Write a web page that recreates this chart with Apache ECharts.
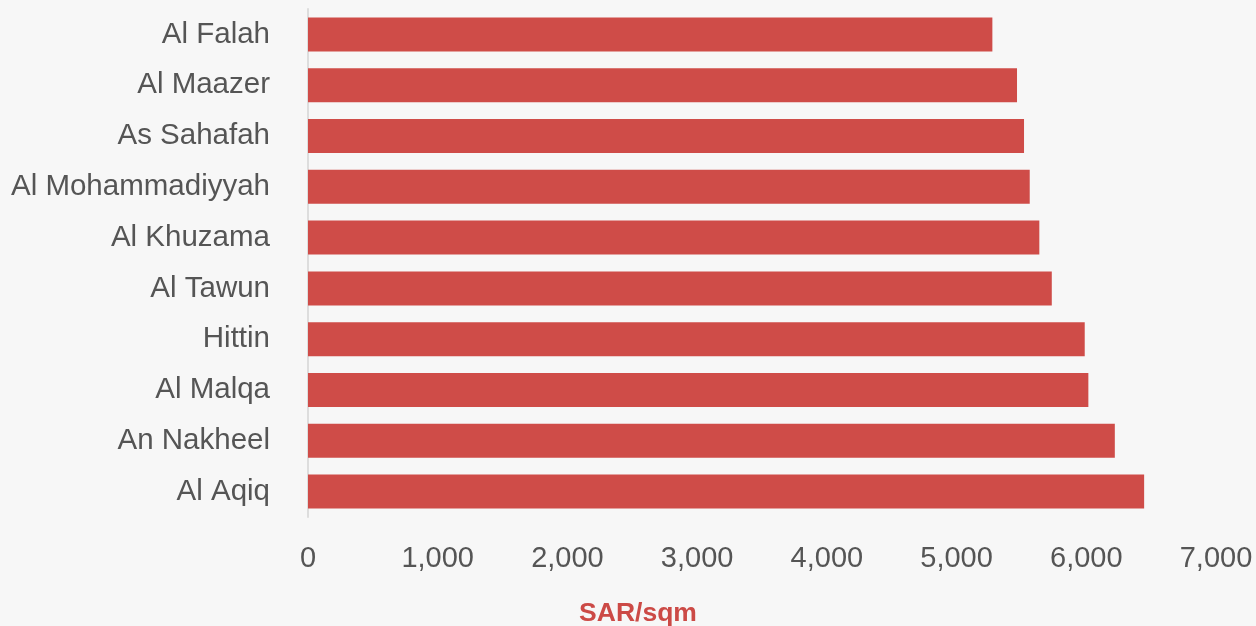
<!DOCTYPE html>
<html>
<head>
<meta charset="utf-8">
<style>
  html, body { margin: 0; padding: 0; background: #f7f7f7; }
  #chart { width: 1256px; height: 626px; }
</style>
<script src="https://cdn.jsdelivr.net/npm/echarts@6/dist/echarts.min.js"></script>
</head>
<body>
<div id="chart"></div>
<script>
// Districts, listed top to bottom
const districts = [
  'Al Falah', 'Al Maazer', 'As Sahafah', 'Al Mohammadiyyah', 'Al Khuzama',
  'Al Tawun', 'Hittin', 'Al Malqa', 'An Nakheel', 'Al Aqiq'
];
// Price per square metre (SAR/sqm)
const prices = [5276, 5466, 5520, 5564, 5638, 5734, 5988, 6016, 6220, 6446];
const axisTitle = 'SAR/sqm';

const chart = echarts.init(document.getElementById('chart'));
chart.setOption({
  backgroundColor: '#f7f7f7',
  animation: false,
  textStyle: { fontFamily: '"Liberation Sans", Arial, sans-serif' },
  grid: {
    left: 308, right: 40, top: 9, bottom: 109,
    containLabel: false,
    outerBoundsMode: 'none'
  },
  xAxis: {
    type: 'value',
    min: 0,
    max: 7000,
    interval: 1000,
    name: axisTitle,
    nameLocation: 'middle',
    nameGap: 83,
    // right padding moves the title toward the page centre
    nameTextStyle: {
      color: '#cc4a46', fontSize: 26.5, fontWeight: 'bold',
      padding: [0, 248, 0, 0]
    },
    axisLine: { show: false },
    axisTick: { show: false },
    splitLine: { show: false },
    axisLabel: {
      color: '#555555',
      fontSize: 29,
      margin: 27,
      formatter: v => v.toLocaleString('en-US')
    }
  },
  yAxis: {
    type: 'category',
    inverse: true,
    data: districts,
    axisTick: { show: false },
    axisLine: { show: true, lineStyle: { color: '#dddddd', width: 2 } },
    axisLabel: { color: '#555555', fontSize: 29.5, margin: 38 }
  },
  series: [{
    type: 'bar',
    data: prices,
    barCategoryGap: '33%',
    itemStyle: { color: '#cf4c48' }
  }]
});
</script>
</body>
</html>
